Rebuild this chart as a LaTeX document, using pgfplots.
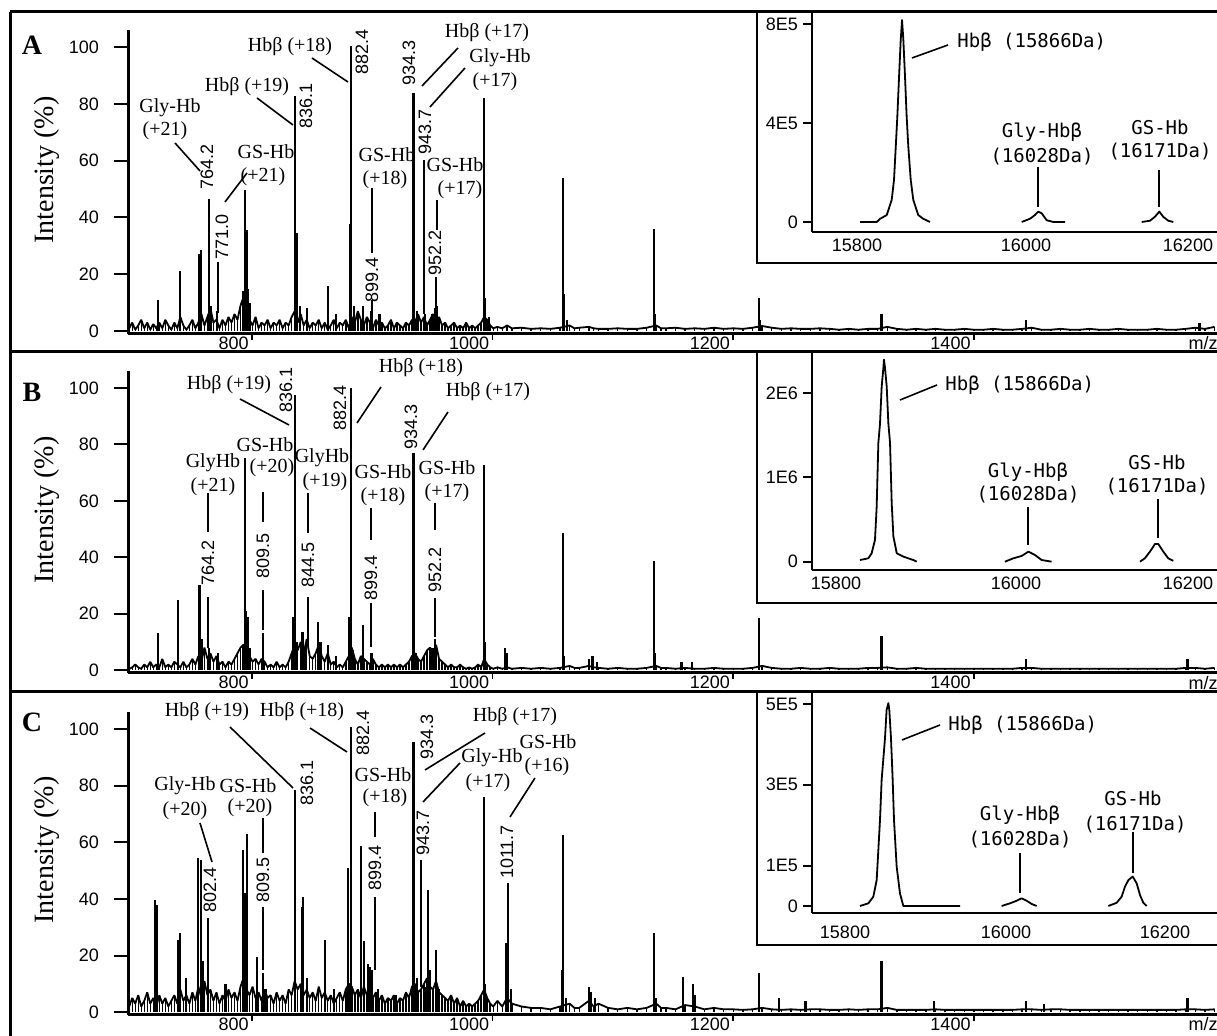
\documentclass[border=0pt]{standalone}
\usepackage{pgfplots}
\pgfplotsset{compat=1.18}
\usepackage{pgfplotstable}
\usepackage{fontspec}
\setmainfont{Liberation Serif}
\newfontfamily\arialf{Liberation Sans}
\newfontfamily\monof{DejaVu Sans Mono}
\newcommand{\anf}{\rmfamily\fontsize{10}{10}\selectfont}
\newcommand{\pkf}{\arialf\fontsize{9}{9}\selectfont}
\newcommand{\tkf}{\arialf\fontsize{9}{9}\selectfont}
\newcommand{\mof}{\monof\fontsize{9.5}{9.5}\selectfont}

\pgfplotstableread{
x a b c
698 1 0.5 2
700.5 3 1 5
703 0.5 2 3
705.5 2 1 6
708 4 0.5 2
710.5 1 2 4
713 3 1 7
715.5 0.5 3 3
718 2.5 1 5
720.5 1 2 2
723 3 1 6
725.5 1 4 3
728 4 1 5
730.5 2 2 2
733 0.5 1 4
735.5 3 3 6
738 1 2 3
740.5 5 1 8
743 2 3 4
745.5 0.5 1 6
748 2 2 3
750.5 4 4 7
753 1 2 4
755.5 3 5 9
758 6 3 5
760.5 2 8 11
763 5 4 6
765.5 8 6 8
768 3 3 4
770.5 4 5 7
773 1 2 3
775.5 4 3 6
778 2 1 4
780.5 5 3 8
783 3 2 5
785.5 6 4 7
788 4 6 4
790.5 9 8 9
793 12 9 12
795.5 6 7 8
798 4 5 6
800.5 2 3 9
803 5 4 5
805.5 1 2 7
808 3 4 4
810.5 2 3 8
813 4 1 5
815.5 1 2 6
818 3 1 3
820.5 2 3 7
823 4 1 4
825.5 1 2 6
828 3 1 3
830.5 2 3 8
833 5 6 6
835.5 7 9 11
838 3 7 8
840.5 6 10 10
843 2 6 6
845.5 4 11 8
848 1 5 5
850.5 3 4 7
853 2 6 4
855.5 4 9 9
858 1 5 5
860.5 3 3 7
863 0.5 6 4
865.5 2 2 6
868 4 3 3
870.5 1 1 5
873 3 2 7
875.5 2 1 4
878 4 3 8
880.5 1 5 10
883 5 8 9
885.5 3 4 6
888 7 2 8
890.5 4 5 5
893 2 4 9
895.5 5 3 6
898 3 2 8
900.5 1 4 5
903 4 2 7
905.5 2 1 4
908 3 2 6
910.5 1 1 3
913 2 2 5
915.5 4 1 4
918 1 2 6
920.5 3 1 3
923 2 2 5
925.5 1 1 4
928 3 2 7
930.5 2 3 5
933 4 5 9
935.5 3 6 10
938 6 4 7
940.5 3 3 8
943 5 5 10
945.5 2 7 12
948 4 8 9
950.5 6 6 8
953 3 9 11
955.5 5 4 7
958 2 3 6
960.5 3 2 5
963 1 1 4
965.5 2 2 6
968 3 1 3
970.5 1 1 5
973 2 2 2
975.5 1 1 4
978 3 0.5 2
980.5 1 1 3
983 2 0.5 2
985.5 1 1 3
988 2 2 4
990.5 3 1 6
993 5 4 8
995.5 4 2 5
998 2 1 3
1000.5 1 0.5 2
1004 1.5 1 4
1008 1 0.5 2
1012 2 1 5
1016 1 0.5 3
1024 1.2 0.8 2
1032 0.8 0.5 1.5
1040 1 0.8 1.5
1048 0.8 0.5 1
1056 1.2 0.8 2
1064 2 1.5 3
1068 1 0.8 1.5
1072 1.2 0.8 1.5
1080 1.5 1.5 4
1084 1 1 2
1088 0.8 0.8 3
1096 0.8 0.5 1.5
1104 1 0.8 1
1112 0.8 0.5 1.5
1120 0.8 0.5 1
1128 1.2 0.8 1.5
1136 2 1.5 3
1140 1 0.8 1.5
1144 1 0.8 1.5
1152 1.2 0.5 1
1160 0.8 0.8 2.5
1168 1 0.5 2
1176 0.8 0.5 1
1184 1.2 0.8 1.5
1192 0.8 0.5 1
1200 1 0.5 1
1208 0.8 0.5 0.8
1216 1.2 0.8 1
1224 1.8 1.5 1.5
1232 1.2 0.8 1
1240 0.8 0.5 0.8
1248 1 0.5 1
1256 0.8 0.8 0.8
1264 0.8 0.5 1
1272 1 0.5 1
1280 0.8 0.8 0.8
1288 0.5 0.5 0.8
1296 0.8 0.5 1
1304 0.5 0.5 0.8
1312 0.8 0.8 1
1320 0.8 0.8 1
1328 1.5 1 1.5
1336 0.8 0.5 0.8
1344 0.5 0.5 0.8
1352 0.8 0.8 0.8
1360 0.5 0.5 0.8
1368 0.8 0.5 1
1376 0.5 0.5 0.8
1384 0.5 0.5 0.8
1392 0.8 0.5 0.8
1400 0.5 0.5 0.8
1408 0.5 0.5 0.8
1416 0.8 0.5 0.8
1424 0.5 0.5 0.8
1432 0.5 0.5 0.8
1440 0.8 0.8 1
1448 1.2 0.8 1
1456 0.5 0.5 0.8
1464 0.5 0.5 1
1472 0.8 0.5 1
1480 0.5 0.5 0.8
1488 0.5 0.5 0.8
1496 0.8 0.5 0.8
1504 0.5 0.5 0.8
1512 0.5 0.5 0.8
1520 0.8 0.5 0.8
1528 0.5 0.5 0.8
1536 0.5 0.5 0.8
1544 0.5 0.5 0.8
1552 0.8 0.5 0.8
1560 0.5 0.5 0.8
1568 0.5 0.5 0.8
1576 0.8 0.8 1
1584 1.2 0.8 1
1592 0.8 0.5 0.8
1600 1.5 0.8 1
}\noise

\pgfplotsset{
 mainax/.style={scale only axis, width=544.5pt, anchor=south west, clip=false,
   xmin=697, xmax=1602, ymin=-1, ymax=106,
   axis x line=bottom, axis y line=left,
   axis line style={-, line width=1.5pt},
   xtick=\empty,
   ytick={0,20,40,60,80,100}, yticklabels={0,20,40,60,80,100},
   tick align=outside, major tick length=7pt,
   tick style={black, line width=1pt},
   yticklabel style={font=\tkf, xshift=-4pt}},
 spec/.style={black, line width=0.9pt, line join=bevel, no markers},
 ncomb/.style={black, ycomb, line width=0.7pt, no markers},
 stick/.style={black, ycomb, line width=1.1pt, no markers},
 insax/.style={scale only axis, width=202.5pt, anchor=south west, clip=false,
   axis x line=bottom, axis y line=left, axis line style={-, line width=1.1pt},
   xtick=\empty, tick align=outside, major tick length=4.5pt,
   tick style={black, line width=1pt}, scaled y ticks=false, scaled x ticks=false,
   yticklabel style={font=\tkf, xshift=1pt}},
 ipk/.style={black, line width=0.9pt, no markers, line join=round},
}
\newcommand{\xtl}[1]{\draw[line width=0.8pt] (axis cs:#1,-1) -- ++(0pt,-3pt);
  \node[font=\tkf, anchor=north east, inner sep=0pt, xshift=-1.5pt, yshift=-1.5pt] at (axis cs:#1,-1) {#1};}

\begin{document}
\begin{tikzpicture}
% ---------- Panel A main
\begin{axis}[mainax, at={(64pt,351pt)}, height=152pt]
\addplot[spec] table[x=x,y=a]{\noise};
\addplot[ncomb] table[x=x,y=a]{\noise};
\addplot[stick] coordinates {(722.1,11) (740.5,21) (756,27) (757.5,28.5) (764.2,46.5) (766,9) (771.0,7) (792.5,14) (794.5,49.6) (795.5,35.5) (797,15) (798.5,10) (836.1,82.7) (837.5,34.5) (840,9) (846,8) (863,16) (870,6) (881.5,37.7) (882.4,100.5) (885,9) (892.5,9) (899.4,7) (906,6) (933.8,68.7) (934.3,83.8) (937,7) (943.7,6) (950,6) (952.2,8) (954,9) (992.6,82) (993.6,11.6) (997,5) (1058.7,54) (1059.6,13) (1062,4) (1134.3,36) (1135.2,6) (1221.5,11.5) (1222.5,4) (1323.2,6) (1443.4,4) (1587.5,3)};
\xtl{800}\xtl{1000}\xtl{1200}\xtl{1400}
\end{axis}
% ---------- Panel B main
\begin{axis}[mainax, at={(64pt,181.5pt)}, height=151pt]
\addplot[spec] table[x=x,y=b]{\noise};
\addplot[ncomb] table[x=x,y=b]{\noise};
\addplot[stick] coordinates {(722.1,13) (738.5,25) (756.5,30) (758,11) (764.2,8) (772,6) (792.5,9) (794.3,75) (795.3,21) (796.5,19) (798,8) (809.5,13) (834.5,19) (836.1,97.5) (837.5,10) (842,13.5) (844.5,8) (855,17) (857,10) (863,9) (870,5) (881,19) (882.4,100) (884,7) (892,16) (899.4,6) (934.3,77) (936,6) (948,6) (950,8) (952.2,11) (992.6,72.7) (993.5,10) (1010,8) (1012,6) (1058.7,48.6) (1059.5,5) (1080,4) (1083,5) (1087,3) (1134.3,38.7) (1135,6) (1157,3) (1166,3) (1221.5,18.4) (1323.2,12) (1443.4,4) (1577.5,4)};
\xtl{800}\xtl{1000}\xtl{1200}\xtl{1400}
\end{axis}
% ---------- Panel C main
\begin{axis}[mainax, at={(64pt,10.5pt)}, height=151.5pt]
\addplot[spec] table[x=x,y=c]{\noise};
\addplot[ncomb] table[x=x,y=c]{\noise};
\addplot[stick] coordinates {(719.4,39.6) (721,37.8) (738.6,25.4) (740.2,28) (745,12) (755.5,54.4) (757.5,53.7) (759,18) (763.5,9.5) (778,10) (792.3,57.2) (794.5,42) (796.1,63) (804,19.4) (809.5,14) (812,8) (836.1,78.4) (841.5,37) (842.7,40.6) (846,12) (860.7,25.4) (868,8) (880.1,51) (882.4,100.7) (890.6,58.7) (893.4,25) (896.5,17) (898,16) (899.4,15) (905,8) (920,6) (934.3,95.4) (937,12) (943.7,9) (946.1,43) (948,15) (952.7,22) (955,8) (992.6,76) (994,10) (1011.1,24.3) (1012.5,45.6) (1015,8) (1057.5,15) (1058.7,62.5) (1061,5) (1080,9) (1082,7) (1085,5) (1134.3,28) (1136,5) (1158,12.4) (1166.5,10) (1168,6) (1221.5,14) (1238,5) (1260,4) (1323.2,18) (1367,4) (1443.4,4) (1458,3) (1577.5,5)};
\xtl{800}\xtl{1000}\xtl{1200}\xtl{1400}
\end{axis}

% ---------- frames (image pixel coordinates)
\begin{scope}[x=0.5pt, y=-0.5pt, shift={(0pt,518pt)}]
\draw[line width=1.5pt] (10,12) -- (1230,12);
\draw[line width=1.5pt] (10,352) -- (1230,352);
\draw[line width=1.5pt] (10,692) -- (1230,692);
\draw[line width=1.5pt] (10,12) -- (10,1040);
\filldraw[fill=white, line width=1.3pt] (757,12) rectangle (1230,263);
\filldraw[fill=white, line width=1.3pt] (757,352) rectangle (1230,603);
\filldraw[fill=white, line width=1.3pt] (757,692) rectangle (1230,945);
\end{scope}

% ---------- insets
\begin{axis}[insax, at={(406pt,402pt)}, height=110pt, xmin=15745.6, xmax=16235, ymin=-40400, ymax=848500, ytick={0,400000,800000}, yticklabels={0,4E5,8E5}]
\addplot[ipk] coordinates {(15803.6,0) (15823.8,0) (15828,13000) (15835.9,28000) (15841.9,89000) (15844.7,170000) (15846.8,303000) (15848.7,425000) (15850.8,587000) (15852.8,735000) (15854.4,816000) (15856,735000) (15858,587000) (15860,425000) (15862,303000) (15864.9,170000) (15868,89000) (15874,28000) (15880,13000) (15888.2,0)};
\addplot[ipk] coordinates {(15999,0) (16009,13000) (16015,28000) (16019,42000) (16023.2,35000) (16029.2,7000) (16037.2,0) (16051.4,0)};
\addplot[ipk] coordinates {(16144,0) (16154,5000) (16160,21000) (16165.3,42000) (16170,21000) (16176.2,5000) (16182.2,0)};
\end{axis}
\begin{axis}[insax, at={(406pt,233pt)}, height=108.5pt, xmin=15772.7, xmax=16233, ymin=-98600, ymax=2479000, ytick={0,1000000,2000000}, yticklabels={0,1E6,2E6}]
\addplot[ipk] coordinates {(15827.3,20000) (15836.7,40000) (15840.5,100000) (15844.3,260000) (15846.2,650000) (15848.1,1410000) (15850,1640000) (15851.9,2080000) (15853.8,2300000) (15854.5,2400000) (15855.7,2300000) (15857.6,2080000) (15859.5,1640000) (15861.4,1410000) (15863.3,690000) (15865.2,300000) (15869,100000) (15876.5,60000) (15887.8,20000) (15891.7,0)};
\addplot[ipk] coordinates {(15992,0) (16001.5,40000) (16011,68000) (16018.6,119000) (16026,80000) (16033.7,20000) (16045,0)};
\addplot[ipk] coordinates {(16145.5,0) (16151,40000) (16156.8,119000) (16162.5,210000) (16166.3,210000) (16172,119000) (16177.6,40000) (16183.3,10000)};
\end{axis}
\begin{axis}[insax, at={(406pt,61.5pt)}, height=110pt, xmin=15758.75, xmax=16265, ymin=-17300, ymax=527000, ytick={0,100000,300000,500000}, yticklabels={0,1E5,3E5,5E5}]
\addplot[ipk] coordinates {(15818.75,0) (15829.2,6600) (15835.4,23000) (15839.6,64000) (15843.75,213000) (15845.8,312000) (15850,415000) (15852,485000) (15854.2,502000) (15855.4,485000) (15857.5,415000) (15859.6,312000) (15861.25,213000) (15864.6,97000) (15868.75,31000) (15872.9,0) (15885.4,0) (15943.75,0)};
\addplot[ipk] coordinates {(15995.8,0) (16006.25,6600) (16014.6,13000) (16020.8,19000) (16027.1,13000) (16033.3,5000) (16039.6,0)};
\addplot[ipk] coordinates {(16129.2,0) (16139.6,8000) (16145.8,23000) (16150,48000) (16154.2,64000) (16159.6,73000) (16164.6,56000) (16168.75,27000) (16172.9,8000) (16177.1,0)};
\end{axis}

% ---------- annotations (image pixel coordinates)
\begin{scope}[x=0.5pt, y=-0.5pt, shift={(0pt,518pt)}, lead/.style={line width=0.8pt},
  an/.style={font=\anf, inner sep=0pt}, pk/.style={font=\pkf, rotate=90, inner sep=0pt},
  mo/.style={font=\mof, inner sep=0pt}, tk/.style={font=\tkf, inner sep=0pt}]
% panel letters and y labels
\node[font=\rmfamily\bfseries\fontsize{14}{14}\selectfont] at (32,45) {A};
\node[font=\rmfamily\bfseries\fontsize{14}{14}\selectfont] at (32,392) {B};
\node[font=\rmfamily\bfseries\fontsize{14}{14}\selectfont] at (32,722) {C};
\node[font=\rmfamily\fontsize{14}{14}\selectfont, rotate=90] at (47,170) {Intensity (\%)};
\node[font=\rmfamily\fontsize{14}{14}\selectfont, rotate=90] at (47,510) {Intensity (\%)};
\node[font=\rmfamily\fontsize{14}{14}\selectfont, rotate=90] at (47,850) {Intensity (\%)};
\node[tk] at (1203,343) {m/z};
\node[tk] at (1203,683) {m/z};
\node[tk] at (1203,1024) {m/z};
% ----- A
\node[an] at (290,47) {Hbβ (+18)};
\draw[lead] (312,58) -- (348,82);
\node[pk] at (362,52) {882.4};
\node[an] at (247,87) {Hbβ (+19)};
\draw[lead] (257,98) -- (293,125);
\node[pk] at (306,106) {836.1};
\node[an] at (170,108) {Gly-Hb};
\node[an] at (165,131) {(+21)};
\draw[lead] (175,143) -- (200,171);
\node[pk] at (207,167) {764.2};
\node[an] at (266,152) {GS-Hb};
\node[an] at (263,177) {(+21)};
\draw[lead] (247,173) -- (225,202);
\node[pk] at (222,237) {771.0};
\draw[lead] (218,262) -- (218,313);
\node[an] at (387,155) {GS-Hb};
\node[an] at (385,180) {(+18)};
\draw[lead] (372,188) -- (372,253);
\node[pk] at (372,280) {899.4};
\draw[lead] (372,300) -- (372,311);
\node[pk] at (409,63) {934.3};
\node[an] at (487,33) {Hbβ (+17)};
\draw[lead] (422,86) -- (458,48);
\node[an] at (500,58) {Gly-Hb};
\node[an] at (495,82) {(+17)};
\draw[lead] (430,107) -- (465,68);
\node[pk] at (425,132) {943.7};
\draw[lead] (424,160) -- (424,314);
\node[an] at (455,165) {GS-Hb};
\node[an] at (460,190) {(+17)};
\draw[lead] (437,200) -- (437,230);
\node[pk] at (435,253) {952.2};
\draw[lead] (436,277) -- (436,309);
% ----- B
\node[an] at (229,385) {Hbβ (+19)};
\draw[lead] (240,399) -- (289,425);
\node[pk] at (286,390) {836.1};
\node[pk] at (340,408) {882.4};
\node[an] at (421,368) {Hbβ (+18)};
\draw[lead] (357,423) -- (381,387);
\node[an] at (265,445) {GS-Hb};
\node[an] at (272,468) {(+20)};
\node[an] at (213,463) {GlyHb};
\node[an] at (213,487) {(+21)};
\node[an] at (322,458) {GlyHb};
\node[an] at (325,482) {(+19)};
\node[an] at (383,472) {GS-Hb};
\node[an] at (383,497) {(+18)};
\draw[lead] (208,493) -- (208,532); \node[pk] at (208,563) {764.2}; \draw[lead] (208,597) -- (208,648);
\draw[lead] (263,492) -- (263,522); \node[pk] at (263,556) {809.5}; \draw[lead] (263,590) -- (263,630);
\draw[lead] (308,493) -- (308,533); \node[pk] at (308,565) {844.5}; \draw[lead] (308,597) -- (308,647);
\draw[lead] (371,508) -- (371,540); \node[pk] at (371,578) {899.4}; \draw[lead] (371,603) -- (371,647);
\node[pk] at (411,427) {934.3};
\node[an] at (488,392) {Hbβ (+17)};
\draw[lead] (423,450) -- (448,412);
\node[an] at (447,468) {GS-Hb};
\node[an] at (447,493) {(+17)};
\draw[lead] (435,503) -- (435,530); \node[pk] at (435,570) {952.2}; \draw[lead] (435,598) -- (435,637);
% ----- C
\node[an] at (207,712) {Hbβ (+19)};
\draw[lead] (230,727) -- (293,788);
\node[pk] at (307,783) {836.1};
\node[an] at (302,712) {Hbβ (+18)};
\draw[lead] (310,728) -- (347,752);
\node[pk] at (363,733) {882.4};
\node[an] at (185,786) {Gly-Hb};
\node[an] at (185,811) {(+20)};
\draw[lead] (200,823) -- (212,862);
\node[pk] at (210,890) {802.4};
\draw[lead] (208,918) -- (208,985);
\node[an] at (248,786) {GS-Hb};
\node[an] at (250,808) {(+20)};
\draw[lead] (263,818) -- (263,853); \node[pk] at (263,880) {809.5}; \draw[lead] (263,907) -- (263,970);
\node[an] at (383,775) {GS-Hb};
\node[an] at (385,798) {(+18)};
\draw[lead] (375,812) -- (375,837); \node[pk] at (375,868) {899.4}; \draw[lead] (375,897) -- (375,970);
\node[pk] at (427,737) {934.3};
\node[an] at (515,717) {Hbβ (+17)};
\draw[lead] (425,770) -- (485,733);
\node[an] at (492,758) {Gly-Hb};
\node[an] at (488,783) {(+17)};
\draw[lead] (423,802) -- (460,763);
\node[pk] at (423,833) {943.7};
\draw[lead] (421,860) -- (421,987);
\node[an] at (548,742) {GS-Hb};
\node[an] at (547,767) {(+16)};
\draw[lead] (535,778) -- (510,817);
\node[pk] at (507,852) {1011.7};
% ----- insets text
\node[mo, anchor=west] at (957,42) {Hbβ (15866Da)};
\draw[lead] (912,58) -- (948,45);
\node[mo] at (1042,132) {Gly-Hbβ};
\node[mo] at (1042,157) {(16028Da)};
\draw[lead] (1038,167) -- (1038,207);
\node[mo] at (1160,127) {GS-Hb};
\node[mo] at (1160,152) {(16171Da)};
\draw[lead] (1159,170) -- (1159,207);
\node[tk] at (857,245) {15800};
\node[tk] at (1026,245) {16000};
\node[tk] at (1188,245) {16200};
\node[mo, anchor=west] at (945,385) {Hbβ (15866Da)};
\draw[lead] (900,400) -- (937,385);
\node[mo] at (1028,472) {Gly-Hbβ};
\node[mo] at (1028,495) {(16028Da)};
\draw[lead] (1028,507) -- (1028,545);
\node[mo] at (1157,462) {GS-Hb};
\node[mo] at (1157,487) {(16171Da)};
\draw[lead] (1158,499) -- (1158,538);
\node[tk] at (836,583) {15800};
\node[tk] at (1016,583) {16000};
\node[tk] at (1188,583) {16200};
\node[mo, anchor=west] at (948,725) {Hbβ (15866Da)};
\draw[lead] (902,740) -- (940,725);
\node[mo] at (1020,815) {Gly-Hbβ};
\node[mo] at (1020,840) {(16028Da)};
\draw[lead] (1020,853) -- (1020,893);
\node[mo] at (1133,798) {GS-Hb};
\node[mo] at (1135,825) {(16171Da)};
\draw[lead] (1133,832) -- (1133,873);
\node[tk] at (845,932) {15800};
\node[tk] at (1006,932) {16000};
\node[tk] at (1165,932) {16200};
\end{scope}
\pgfresetboundingbox
\path[use as bounding box] (0pt,0pt) rectangle (608.5pt,518pt);
\end{tikzpicture}
\end{document}
